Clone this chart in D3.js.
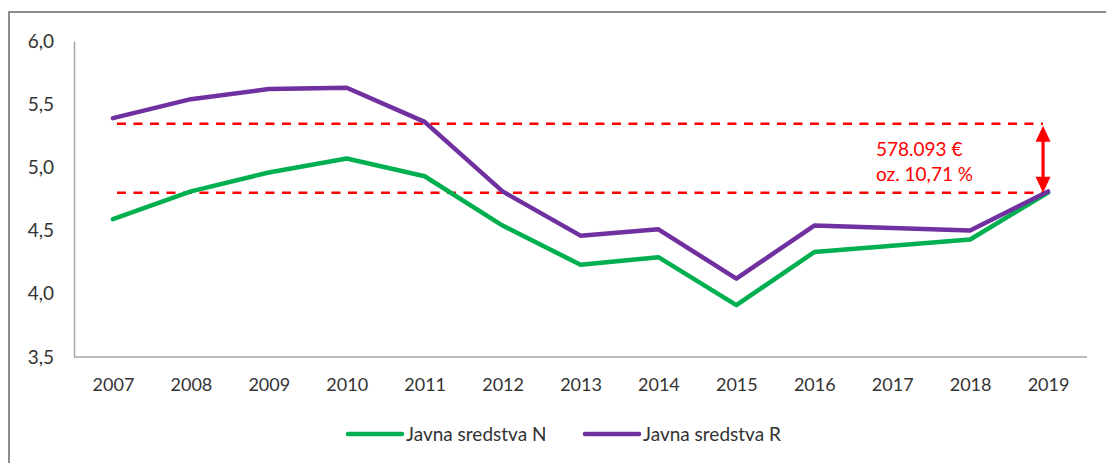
<!DOCTYPE html>
<html><head><meta charset="utf-8">
<script src="https://cdn.jsdelivr.net/npm/d3@7"></script>
<style>
html,body{margin:0;padding:0;background:#fff;}
svg{display:block;font-family:Lato,"Open Sans",sans-serif;}
</style></head>
<body><svg id="c" width="1106" height="463"></svg>
<script>
const years = ["2007","2008","2009","2010","2011","2012","2013","2014","2015","2016","2017","2018","2019"];
const seriesN = [4.59,4.81,4.96,5.07,4.93,4.54,4.23,4.29,3.91,4.33,4.38,4.43,4.80];
const seriesR = [5.39,5.54,5.62,5.63,5.36,4.81,4.46,4.51,4.12,4.54,4.52,4.50,4.81];
const seriesNames = ["Javna sredstva N","Javna sredstva R"];
const yTicks = [3.5,4.0,4.5,5.0,5.5,6.0];
const refLines = [5.345, 4.80];
const annotation = ["578.093 €","oz. 10,71 %"];

const svg = d3.select("#c");
const colors = ["#00b050","#7030a0"];
const red = "#ff0000";
const axisGray = "#a6a6a6";
const textColor = "#333333";

// outer border
svg.append("rect").attr("x",9).attr("y",12).attr("width",1200).attr("height",600)
  .attr("fill","none").attr("stroke","#8c8c8c").attr("stroke-width",2);

const L=74, R=1087, T=41, B=357;
const x = d3.scalePoint().domain(years).range([L,R]).padding(0.5);
const y = d3.scaleLinear().domain([3.5,6.0]).range([B,T]);

// y axis
const yAx = svg.append("g").attr("transform",`translate(${L},0)`)
  .call(d3.axisLeft(y).tickValues(yTicks).tickSize(0).tickPadding(20)
    .tickFormat(d=>d3.format(".1f")(d).replace(".",",")));
yAx.select(".domain").attr("stroke",axisGray).attr("stroke-width",1.5);
yAx.selectAll("text").attr("fill",textColor).style("font-size","19px").attr("font-family","Lato");

// x axis
const xAx = svg.append("g").attr("transform",`translate(0,${B})`)
  .call(d3.axisBottom(x).tickSize(0).tickPadding(21));
xAx.select(".domain").attr("stroke",axisGray).attr("stroke-width",1.5)
  .attr("d",`M${L},0H${R}`);
xAx.selectAll("text").attr("fill",textColor).style("font-size","18px").attr("font-family","Lato");

// reference dashed lines
const x0 = x(years[0])+4, x1 = x(years[years.length-1])-5;
svg.selectAll(".ref").data(refLines).enter().append("line")
  .attr("x1",x0).attr("x2",x1).attr("y1",d=>y(d)).attr("y2",d=>y(d))
  .attr("stroke",red).attr("stroke-width",2.5).attr("stroke-dasharray","9,7.5");

// series lines
const line = d3.line().x((d,i)=>x(years[i])).y(d=>y(d));
[seriesN, seriesR].forEach((s,k)=>{
  svg.append("path").datum(s).attr("d",line).attr("fill","none")
    .attr("stroke",colors[k]).attr("stroke-width",4.5)
    .attr("stroke-linejoin","round").attr("stroke-linecap","round");
});

// arrow
const ax = x1;
const yTop = y(refLines[0])+2, yBot = y(refLines[1]);
svg.append("line").attr("x1",ax).attr("x2",ax).attr("y1",yTop+12).attr("y2",yBot-12)
  .attr("stroke",red).attr("stroke-width",3.2);
svg.append("path").attr("d",`M${ax},${yTop}L${ax-7.5},${yTop+16}L${ax+7.5},${yTop+16}Z`).attr("fill",red);
svg.append("path").attr("d",`M${ax},${yBot}L${ax-7.5},${yBot-16}L${ax+7.5},${yBot-16}Z`).attr("fill",red);

// annotation text
const tx = ax - 167;
annotation.forEach((t,i)=>{
  svg.append("text").attr("x",tx).attr("y",y(refLines[0])+32+i*25.5)
    .attr("fill",red).style("font-size","19px").attr("font-family","Lato").text(t);
});

// legend
const legY = 434;
const legX = [348, 585];
seriesNames.forEach((n,k)=>{
  svg.append("line").attr("x1",legX[k]).attr("x2",legX[k]+54).attr("y1",legY).attr("y2",legY)
    .attr("stroke",colors[k]).attr("stroke-width",4.5).attr("stroke-linecap","round");
  svg.append("text").attr("x",legX[k]+58).attr("y",legY+7).attr("fill",textColor)
    .style("font-size","19px").attr("font-family","Lato").text(n);
});
</script></body></html>
